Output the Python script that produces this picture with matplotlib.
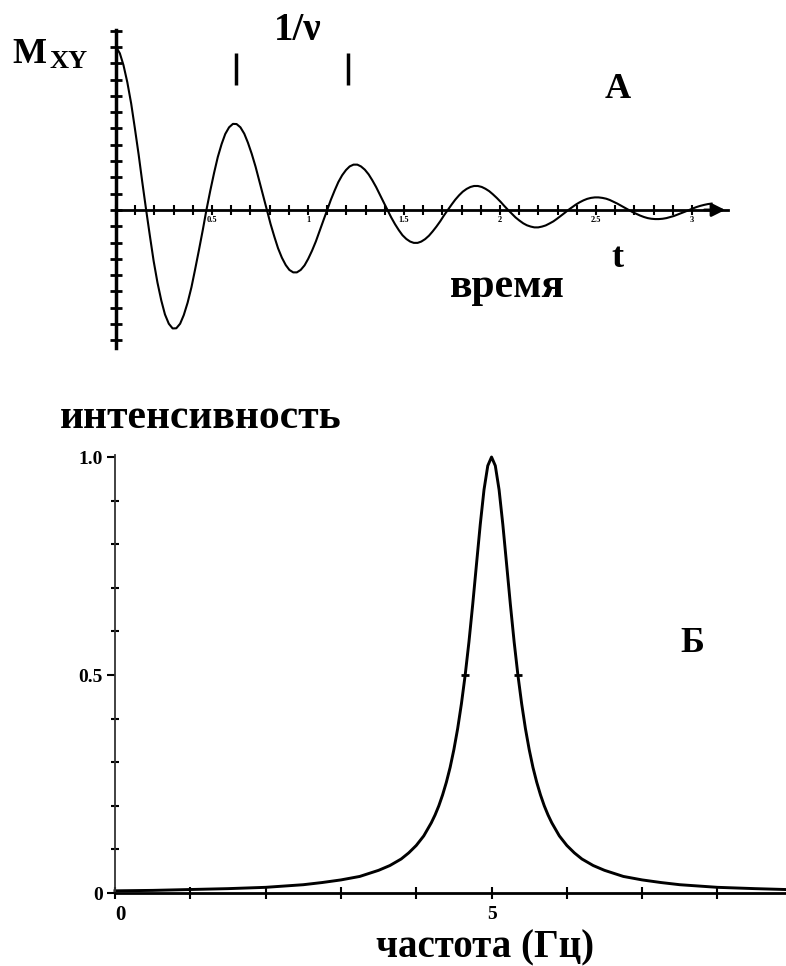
"""Free induction decay and its spectrum, drawn as two stacked panels"""

import matplotlib.pyplot as plt
from matplotlib.ticker import MultipleLocator, FixedLocator


# panel A: transverse magnetisation M_xy against time
t_s = [0.000, 0.020, 0.039, 0.059, 0.079, 0.098, 0.118, 0.137, 0.157, 0.177,
       0.196, 0.216, 0.236, 0.255, 0.275, 0.295, 0.314, 0.334, 0.353, 0.373,
       0.393, 0.412, 0.432, 0.452, 0.471, 0.491, 0.511, 0.530, 0.550, 0.569,
       0.589, 0.609, 0.628, 0.648, 0.668, 0.687, 0.707, 0.727, 0.746, 0.766,
       0.785, 0.805, 0.825, 0.844, 0.864, 0.884, 0.903, 0.923, 0.942, 0.962,
       0.982, 1.001, 1.021, 1.041, 1.060, 1.080, 1.100, 1.119, 1.139, 1.158,
       1.178, 1.198, 1.217, 1.237, 1.257, 1.276, 1.296, 1.316, 1.335, 1.355,
       1.374, 1.394, 1.414, 1.433, 1.453, 1.473, 1.492, 1.512, 1.532, 1.551,
       1.571, 1.590, 1.610, 1.630, 1.649, 1.669, 1.689, 1.708, 1.728, 1.748,
       1.767, 1.787, 1.806, 1.826, 1.846, 1.865, 1.885, 1.905, 1.924, 1.944,
       1.963, 1.983, 2.003, 2.022, 2.042, 2.062, 2.081, 2.101, 2.121, 2.140,
       2.160, 2.179, 2.199, 2.219, 2.238, 2.258, 2.278, 2.297, 2.317, 2.337,
       2.356, 2.376, 2.395, 2.415, 2.435, 2.454, 2.474, 2.494, 2.513, 2.533,
       2.553, 2.572, 2.592, 2.611, 2.631, 2.651, 2.670, 2.690, 2.710, 2.729,
       2.749, 2.769, 2.788, 2.808, 2.827, 2.847, 2.867, 2.886, 2.906, 2.926,
       2.945, 2.965, 2.985, 3.004, 3.024, 3.043, 3.063, 3.083, 3.102]
mxy = [1.000, 0.961, 0.888, 0.783, 0.653, 0.503, 0.339, 0.170, 0.000, -0.163,
       -0.313, -0.446, -0.556, -0.641, -0.698, -0.727, -0.726, -0.698, -0.645, -0.569,
       -0.474, -0.365, -0.246, -0.123, 0.000, 0.118, 0.228, 0.324, 0.404, 0.466,
       0.507, 0.528, 0.527, 0.507, 0.468, 0.413, 0.344, 0.265, 0.179, 0.089,
       0.000, -0.086, -0.165, -0.235, -0.293, -0.338, -0.368, -0.383, -0.383, -0.368,
       -0.340, -0.300, -0.250, -0.193, -0.130, -0.065, 0.000, 0.062, 0.120, 0.171,
       0.213, 0.245, 0.267, 0.278, 0.278, 0.267, 0.247, 0.218, 0.182, 0.140,
       0.094, 0.047, 0.000, -0.045, -0.087, -0.124, -0.155, -0.178, -0.194, -0.202,
       -0.202, -0.194, -0.179, -0.158, -0.132, -0.102, -0.069, -0.034, 0.000, 0.033,
       0.063, 0.090, 0.112, 0.129, 0.141, 0.147, 0.147, 0.141, 0.130, 0.115,
       0.096, 0.074, 0.050, 0.025, 0.000, -0.024, -0.046, -0.065, -0.082, -0.094,
       -0.102, -0.107, -0.107, -0.102, -0.095, -0.083, -0.070, -0.054, -0.036, -0.018,
       0.000, 0.017, 0.033, 0.047, 0.059, 0.068, 0.074, 0.077, 0.077, 0.074,
       0.069, 0.061, 0.050, 0.039, 0.026, 0.013, 0.000, -0.013, -0.024, -0.034,
       -0.043, -0.050, -0.054, -0.056, -0.056, -0.054, -0.050, -0.044, -0.037, -0.028,
       -0.019, -0.010, 0.000, 0.009, 0.018, 0.025, 0.031, 0.036, 0.039]
time_ticks = [0.5, 1, 1.5, 2, 2.5, 3]
time_labels = ["0.5", "1", "1.5", "2", "2.5", "3"]
period_marks_t = [0.625, 1.21]

# panel Б: spectrum, intensity against frequency
freq_hz = [0, 0.5, 1, 1.5, 2, 2.5, 2.75, 3, 3.25, 3.5,
           3.65, 3.8, 3.9, 4.0, 4.1, 4.2, 4.25, 4.3, 4.35, 4.4,
           4.45, 4.5, 4.55, 4.6, 4.65, 4.7, 4.75, 4.8, 4.85, 4.9,
           4.95, 5.0, 5.05, 5.1, 5.15, 5.2, 5.25, 5.3, 5.35, 5.4,
           5.45, 5.5, 5.55, 5.6, 5.65, 5.7, 5.75, 5.8, 5.9, 6.0,
           6.1, 6.2, 6.35, 6.5, 6.75, 7.0, 7.25, 7.5, 8.0, 8.5, 8.9]
intensity = [0.005, 0.006, 0.008, 0.010, 0.013, 0.019, 0.024, 0.030, 0.038, 0.052,
             0.063, 0.078, 0.092, 0.109, 0.131, 0.161, 0.179, 0.200, 0.225, 0.254,
             0.288, 0.329, 0.377, 0.434, 0.500, 0.576, 0.662, 0.754, 0.845, 0.925,
             0.980, 1.000, 0.980, 0.925, 0.845, 0.754, 0.662, 0.576, 0.500, 0.434,
             0.377, 0.329, 0.288, 0.254, 0.225, 0.200, 0.179, 0.161, 0.131, 0.109,
             0.092, 0.078, 0.063, 0.052, 0.038, 0.030, 0.024, 0.019, 0.013, 0.010, 0.008]
half_height_f = [4.65, 5.35]
half_height_i = [0.5, 0.5]
intensity_ticks = [0, 0.5, 1.0]
intensity_labels = ["0", "0.5", "1.0"]


W, H = 786, 966
SERIF = "Liberation Serif"

fig = plt.figure(figsize=(W / 100, H / 100), dpi=100)


def label(x, y, s, size=26, **kw):
    """text placed in pixel coordinates measured from the top left corner"""
    kw.setdefault("ha", "center")
    kw.setdefault("va", "baseline")
    fig.text(x / W, 1 - y / H, s, fontsize=size, family=SERIF,
             fontweight="bold", color="black", **kw)


def axes_px(left, top, right, bottom):
    return fig.add_axes([left / W, 1 - bottom / H, (right - left) / W, (bottom - top) / H])


"""Panel A, decay of the transverse magnetisation"""
ax1 = axes_px(116, 30, 728, 348)
ax1.plot(t_s, mxy, color="black", lw=1.5, solid_joinstyle="round")
ax1.set_xlim(0, 3.1875)
ax1.set_ylim(-0.847, 1.104)
for side in ("top", "right"):
    ax1.spines[side].set_visible(False)
ax1.spines["left"].set_position(("data", 0))
ax1.spines["bottom"].set_position(("data", 0))
ax1.spines["left"].set_linewidth(2.5)
ax1.spines["bottom"].set_linewidth(2)
ax1.xaxis.set_major_locator(FixedLocator(time_ticks))
ax1.set_xticklabels(time_labels, fontsize=6, family=SERIF, fontweight="bold")
ax1.xaxis.set_minor_locator(MultipleLocator(0.1))
ax1.tick_params(axis="x", which="both", direction="inout", length=7, width=1.5, pad=1)
ax1.yaxis.set_major_locator(MultipleLocator(0.1))
ax1.tick_params(axis="y", which="both", direction="inout", length=8, width=2, labelleft=False)
ax1.annotate("", xy=(3.1875, 0), xytext=(3.05, 0), annotation_clip=False,
             arrowprops=dict(arrowstyle="-|>", color="black", lw=2, mutation_scale=20))
ax1.vlines(period_marks_t, 0.767, 0.963, color="black", lw=2.5)

label(12, 63, "M", ha="left")
label(50, 68, "XY", size=19, ha="left")
label(298, 40, "1/ν", size=28)
label(618, 98, "А")
label(617, 267, "t")
label(507, 297, "время", size=30)


"""Panel Б, the spectrum"""
ax2 = axes_px(115, 455, 786, 893)
ax2.plot(freq_hz, intensity, color="black", lw=2.1, clip_on=False, solid_joinstyle="round")
ax2.plot(half_height_f, half_height_i, ls="none", marker="_", ms=6, mew=2, color="black")
ax2.set_xlim(0, 8.91)
ax2.set_ylim(0, 1.0046)
for side in ("top", "right"):
    ax2.spines[side].set_visible(False)
ax2.spines["left"].set_linewidth(1.3)
ax2.spines["left"].set_color("#333333")
ax2.spines["bottom"].set_linewidth(2)
ax2.set_yticks(intensity_ticks)
ax2.set_yticklabels(intensity_labels, fontsize=14, family=SERIF, fontweight="bold")
ax2.yaxis.set_minor_locator(MultipleLocator(0.1))
ax2.tick_params(axis="y", which="major", direction="out", length=6, width=1.5, pad=3)
ax2.tick_params(axis="y", which="minor", direction="inout", length=6, width=1.5)
ax2.set_xticks(range(9))
ax2.tick_params(axis="x", direction="inout", length=9, width=1.5, labelbottom=False)

label(120, 920, "0", size=15)
label(492, 919, "5", size=14)
label(201, 428, "интенсивность", size=30)
label(692, 652, "Б")
label(485, 957, "частота (Гц)", size=28)

fig.savefig("out.png", dpi=100)
